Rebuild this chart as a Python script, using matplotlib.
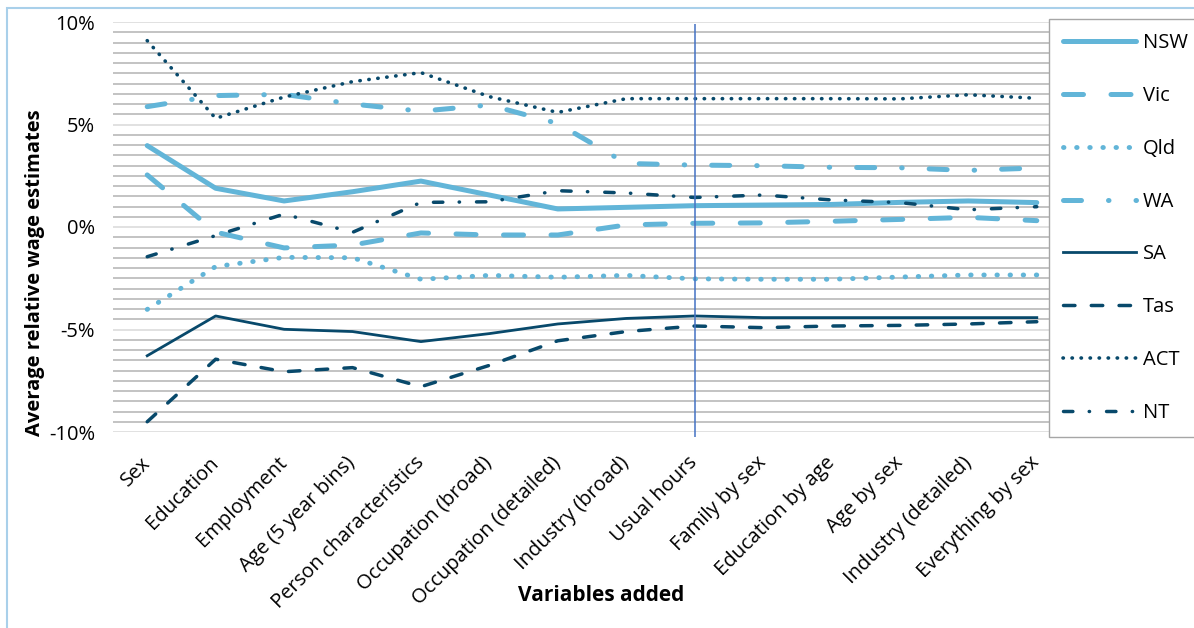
import matplotlib
matplotlib.use('Agg')
import matplotlib.pyplot as plt
from matplotlib.ticker import MultipleLocator, FuncFormatter
from matplotlib.patches import Rectangle

plt.rcParams['font.family'] = ['Open Sans', 'DejaVu Sans']

categories = ['Sex', 'Education', 'Employment', 'Age (5 year bins)',
              'Person characteristics', 'Occupation (broad)',
              'Occupation (detailed)', 'Industry (broad)', 'Usual hours',
              'Family by sex', 'Education by age', 'Age by sex',
              'Industry (detailed)', 'Everything by sex']

# average relative wage estimates, % by state as variables are added
nsw = [3.97, 1.89, 1.27, 1.72, 2.24, 1.56, 0.88, 0.96, 1.04, 1.07, 1.10, 1.20, 1.27, 1.19]
vic = [2.54, -0.25, -1.02, -0.88, -0.29, -0.39, -0.39, 0.10, 0.18, 0.20, 0.28, 0.37, 0.47, 0.31]
qld = [-4.02, -1.93, -1.48, -1.50, -2.55, -2.36, -2.45, -2.36, -2.53, -2.55, -2.55, -2.44, -2.34, -2.34]
wa = [5.87, 6.41, 6.47, 6.00, 5.65, 5.95, 5.05, 3.10, 3.02, 2.99, 2.91, 2.89, 2.76, 2.88]
sa = [-6.28, -4.34, -4.99, -5.10, -5.59, -5.20, -4.73, -4.46, -4.34, -4.42, -4.42, -4.42, -4.42, -4.42]
tas = [-9.50, -6.45, -7.06, -6.86, -7.79, -6.75, -5.55, -5.10, -4.83, -4.91, -4.83, -4.80, -4.73, -4.62]
act = [9.09, 5.30, 6.34, 7.09, 7.53, 6.36, 5.59, 6.26, 6.26, 6.26, 6.26, 6.25, 6.45, 6.28]
nt = [-1.45, -0.42, 0.63, -0.26, 1.20, 1.23, 1.77, 1.66, 1.44, 1.56, 1.32, 1.19, 0.84, 0.99]

light = '#62b5d8'
dark = '#08496b'

fig = plt.figure(figsize=(11.94, 6.28), dpi=100)
ax = fig.add_axes([113 / 1194, 1 - 432 / 628, 958 / 1194, 410 / 628])

x = range(len(categories))
ax.plot(x, nsw, color=light, lw=3.6, solid_capstyle='round', label='NSW')
ax.plot(x, vic, color=light, lw=3.6, dashes=(4, 5.5), dash_capstyle='round', label='Vic')
ax.plot(x, qld, color=light, lw=3.5, dashes=(0.1, 2.6), dash_capstyle='round', label='Qld')
ax.plot(x, wa, color=light, lw=3.6, dashes=(3.6, 5.4, 0.1, 5.4), dash_capstyle='round', label='WA')
ax.plot(x, sa, color=dark, lw=2.0, label='SA')
ax.plot(x, tas, color=dark, lw=2.5, dashes=(3.3, 4.7), dash_capstyle='round', label='Tas')
ax.plot(x, act, color=dark, lw=2.6, dashes=(0.1, 2.4), dash_capstyle='round', label='ACT')
ax.plot(x, nt, color=dark, lw=2.5, dashes=(2.7, 4.7, 0.1, 4.9), dash_capstyle='round', label='NT')

# marker for where "Usual hours" is added
ax.vlines(categories.index('Usual hours'), -10.25, 9.9, color='#4472c4', lw=1.1, clip_on=False)

ax.set_xlim(-0.5, len(categories) - 0.5)
ax.set_ylim(-10, 10)
ax.yaxis.set_major_locator(MultipleLocator(5))
ax.yaxis.set_minor_locator(MultipleLocator(0.5))
ax.yaxis.set_major_formatter(FuncFormatter(lambda v, p: f'{v:.0f}%'))
ax.grid(which='minor', axis='y', color='#b3b3b3', lw=1.1)
ax.grid(which='major', axis='y', color='#d9d9d9', lw=1.1)
ax.set_axisbelow(True)
for s in ax.spines.values():
    s.set_visible(False)

ax.set_xticks(list(x))
ax.set_xticklabels(categories, rotation=45, ha='right', va='center', rotation_mode='anchor')
ax.tick_params(axis='x', length=0, pad=20, labelsize=14.5)
ax.tick_params(axis='y', which='both', length=0, pad=13, labelsize=14.5)

ax.set_ylabel('Average relative wage estimates', fontsize=14.5, fontweight='bold', va='center')
ax.yaxis.set_label_coords(-0.0814, 0.388)
ax.set_xlabel('Variables added', fontsize=15, fontweight='bold', va='center')
ax.xaxis.set_label_coords(0.51, -0.398)

leg = ax.legend(loc='upper left', bbox_to_anchor=(1049 / 1194, 1 - 19 / 628),
                bbox_transform=fig.transFigure, borderaxespad=0, fontsize=14.5,
                frameon=True, fancybox=False, edgecolor='#a6a6a6',
                handlelength=3.6, handletextpad=0.36, labelspacing=1.63,
                borderpad=0.7)
leg.get_frame().set_linewidth(1.0)
leg.get_frame().set_alpha(1)

fig.patches.append(Rectangle((7 / 1194, -0.05), 1.1, (628 - 8) / 628 + 0.05,
                             transform=fig.transFigure, fill=False,
                             edgecolor='#a9d0ea', lw=1.5))

fig.savefig('out.png', dpi=100)
